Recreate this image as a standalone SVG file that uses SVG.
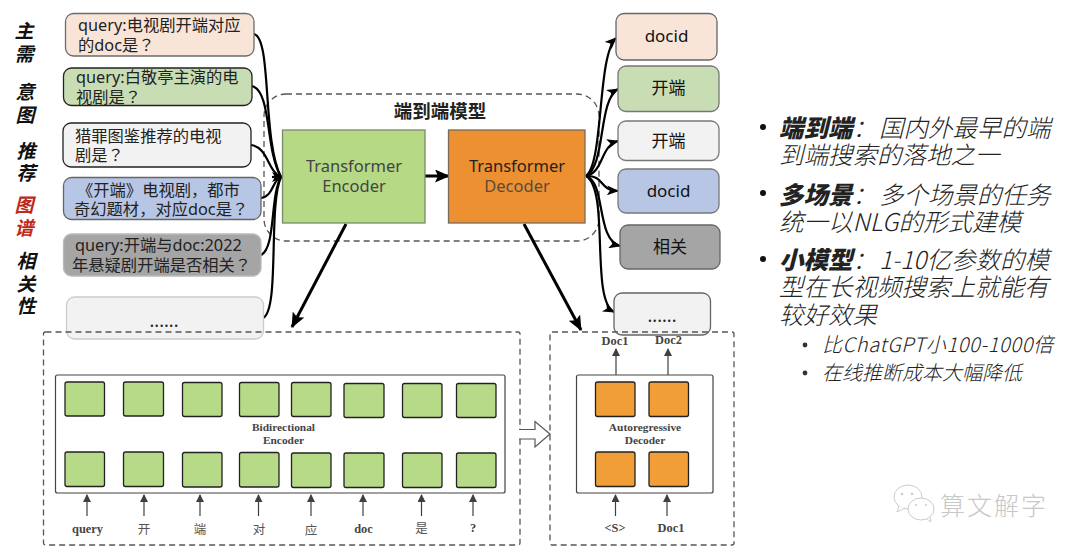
<svg xmlns="http://www.w3.org/2000/svg" width="1080" height="554" viewBox="0 0 1080 554">
<defs>
<marker id="ah" markerUnits="userSpaceOnUse" markerWidth="12" markerHeight="10" refX="11" refY="5" orient="auto"><path d="M0,0 L12,5 L0,10 L3,5 Z" fill="#000"/></marker>
<marker id="ahb" markerUnits="userSpaceOnUse" markerWidth="15" markerHeight="13" refX="14" refY="6.500" orient="auto"><path d="M0,0 L15,6.500 L0,13 L3,6.500 Z" fill="#000"/></marker>
<marker id="ag" markerUnits="userSpaceOnUse" markerWidth="8" markerHeight="9" refX="7" refY="4" orient="auto"><path d="M0,0 L8,4 L0,8 Z" fill="#404040"/></marker>
</defs>
<style>
text{font-family:"Noto Sans","Noto Sans CJK SC",sans-serif;fill:#222}
.q{font-size:16.3px}
.p{font-family:"Noto Sans CJK TC",sans-serif}
.side{font-family:"Noto Sans CJK SC",sans-serif;font-size:19px;font-weight:700;font-style:italic;text-anchor:middle;fill:#111}
.c{text-anchor:middle}
.q6{font-size:18px;text-anchor:middle;fill:#222}
.ser{font-family:"Liberation Serif","Noto Sans CJK SC",serif;font-weight:700;font-size:11.4px;text-anchor:middle;fill:#444}
.ser2{font-family:"Liberation Serif","Noto Sans CJK SC",serif;font-weight:700;font-size:12.4px;text-anchor:middle;fill:#444}
.serc{font-family:"Noto Sans CJK SC",serif;font-size:12.5px;text-anchor:middle;fill:#555}
.t{font-size:16.5px;text-anchor:middle}
.r{font-size:17px;text-anchor:middle;fill:#111}
.b{font-family:"Noto Sans CJK SC",sans-serif;font-size:24.5px;font-style:italic;font-weight:300;fill:#222}
.s{font-family:"Noto Sans CJK SC",sans-serif;font-size:20px;font-style:italic;font-weight:300;fill:#222}
.gc{fill:#B7DA88;stroke:#222;stroke-width:1.3}
.oc{fill:#F29E38;stroke:#222;stroke-width:1.3}
.pan{fill:#fff;stroke:#444;stroke-width:1.2}
.dash{fill:none;stroke:#555;stroke-width:1.3;stroke-dasharray:6 4}
.l{fill:none;stroke:#000;stroke-width:2.2}
.la{fill:none;stroke:#000;stroke-width:2.2;marker-end:url(#ah)}
.lb{fill:none;stroke:#000;stroke-width:3;marker-end:url(#ahb)}
.ga{fill:none;stroke:#404040;stroke-width:1.2;marker-end:url(#ag)}
</style>
<rect width="1080" height="554" fill="#fff"/>

<g id="side-labels">
<text class="side" x="24" y="38">主</text><text class="side" x="24" y="61">需</text>
<text class="side" x="25" y="99">意</text><text class="side" x="25" y="122">图</text>
<text class="side" x="26" y="158">推</text><text class="side" x="26" y="180">荐</text>
<text class="side" x="24" y="212" style="fill:#C0281C">图</text><text class="side" x="24" y="235" style="fill:#C0281C">谱</text>
<text class="side" x="26" y="268">相</text><text class="side" x="26" y="291">关</text><text class="side" x="26" y="313">性</text>
</g>

<g id="model-frame"><rect class="dash" x="264" y="94" width="335" height="147" rx="22"/></g>
<text id="model-title" x="440" y="118" class="c" style="font-family:'Noto Sans CJK SC',sans-serif;font-size:18.5px;font-weight:700;fill:#222">端到端模型</text>

<g id="connectors">
<path class="l" d="M254,34 C272,38 262,140 281,177"/>
<path class="l" d="M252,86 C272,92 265,150 281,177"/>
<path class="l" d="M251,145 C268,147 268,172 281,177"/>
<path class="l" d="M261,198 C274,196 272,180 281,177"/>
<path class="l" d="M261,255 C276,248 270,195 281,177"/>
<path class="l" d="M263,318 C280,310 268,205 281,177"/>
<path class="la" d="M272,177 H283"/>
<path class="la" d="M586,176 C604,162 597,56 616,38"/>
<path class="la" d="M586,176 C606,165 598,100 618,89"/>
<path class="la" d="M586,176 C604,172 600,146 618,141"/>
<path class="la" d="M586,176 C606,176 598,190 618,191"/>
<path class="la" d="M586,176 C606,182 596,240 620,246"/>
<path class="la" d="M586,176 C610,190 590,300 614,312"/>
<path class="lb" d="M425,176 H449"/>
<path class="lb" d="M346,224 L292,327"/>
<path class="lb" d="M524,224 L581,330"/>
<path class="ga" d="M87,516 V495"/><path class="ga" d="M144,516 V495"/><path class="ga" d="M200,516 V495"/><path class="ga" d="M258.500,516 V495"/><path class="ga" d="M311,516 V495"/><path class="ga" d="M363,516 V495"/><path class="ga" d="M421.500,516 V495"/><path class="ga" d="M473,516 V495"/>
<path class="ga" d="M615.500,516 V495"/><path class="ga" d="M667,516 V495"/>
<path class="ga" d="M616,375 V349"/><path class="ga" d="M668,375 V349"/>
</g>

<g id="q1"><rect x="65.500" y="13.500" width="188.500" height="42.500" rx="8" fill="#F8E5D8" stroke="#6b6b6b" stroke-width="1.3"/>
<text class="q" x="78" y="31">query:电视剧开端对应</text><text class="q" x="78" y="51">的doc是<tspan class="p">？</tspan></text></g>
<g id="q2"><rect x="63.500" y="68" width="188.500" height="37.500" rx="8" fill="#C9DDB5" stroke="#222" stroke-width="1.3"/>
<text class="q" x="76" y="83">query:白敬亭主演的电</text><text class="q" x="76" y="103">视剧是<tspan class="p">？</tspan></text></g>
<g id="q3"><rect x="63" y="123" width="188" height="44" rx="8" fill="#F2F2F2" stroke="#222" stroke-width="1.3"/>
<text class="q" x="75" y="142">猎罪图鉴推荐的电视</text><text class="q" x="75" y="161">剧是<tspan class="p">？</tspan></text></g>
<g id="q4"><rect x="63.500" y="177.500" width="197.500" height="42" rx="8" fill="#B7C6E4" stroke="#666" stroke-width="1.3"/>
<text class="q" x="77" y="196">《开端》电视剧，都市</text><text class="q" x="74" y="215">奇幻题材，对应doc是<tspan class="p">？</tspan></text></g>
<g id="q5"><rect x="63.500" y="234" width="197.500" height="42" rx="8" fill="#A5A5A5" stroke="#bbb" stroke-width="1.3"/>
<text class="q" x="75" y="251">query:开端与doc:2022</text><text class="q" x="72" y="271">年悬疑剧开端是否相关<tspan class="p">？</tspan></text></g>
<g id="q6"><rect x="66.500" y="297" width="197" height="42" rx="8" fill="#F2F2F2" stroke="#ccc" stroke-width="1.3"/>
<text class="q6" x="164" y="327">......</text></g>

<g id="encoder"><rect x="282.500" y="130" width="142.500" height="93" fill="#B5D985" stroke="#7A8A6A" stroke-width="1.3"/>
<text class="t" x="354" y="172" style="fill:#444">Transformer</text><text class="t" x="354" y="192" style="fill:#444">Encoder</text></g>
<g id="decoder"><rect x="448.500" y="130" width="136.500" height="93" fill="#EC9032" stroke="#7A6A5A" stroke-width="1.3"/>
<text class="t" x="517" y="172" style="fill:#222">Transformer</text><text class="t" x="517" y="192" style="fill:#5a4a3a">Decoder</text></g>

<g id="r1"><rect x="616" y="13.500" width="101" height="46.500" rx="8" fill="#F8E5D8" stroke="#666" stroke-width="1.3"/><text class="r" x="666.500" y="42">docid</text></g>
<g id="r2"><rect x="618" y="66" width="101" height="45.500" rx="8" fill="#C9DDB5" stroke="#777" stroke-width="1.3"/><text class="r" x="668.500" y="94">开端</text></g>
<g id="r3"><rect x="618" y="121" width="101" height="39.500" rx="8" fill="#F2F2F2" stroke="#777" stroke-width="1.3"/><text class="r" x="668.500" y="147">开端</text></g>
<g id="r4"><rect x="618" y="169" width="101" height="44" rx="8" fill="#B7C6E4" stroke="#777" stroke-width="1.3"/><text class="r" x="668.500" y="197">docid</text></g>
<g id="r5"><rect x="620" y="225" width="100" height="44" rx="8" fill="#A5A5A5" stroke="#666" stroke-width="1.3"/><text class="r" x="670" y="253">相关</text></g>
<g id="r6"><rect x="614" y="293" width="96.500" height="42" rx="8" fill="#F2F2F2" stroke="#666" stroke-width="1.3"/><text class="q6" x="662" y="322">......</text></g>

<g id="encoder-panel">
<rect class="dash" x="43.500" y="332" width="476.500" height="213" rx="2"/>
<rect class="pan" x="55.500" y="375" width="449.500" height="118" rx="2"/>
<rect class="gc" x="65" y="382" width="39.500" height="34" rx="2"/><rect class="gc" x="123.500" y="382" width="40" height="34" rx="2"/><rect class="gc" x="182.500" y="382.500" width="39.500" height="34" rx="2"/><rect class="gc" x="239.500" y="382.500" width="39.500" height="34" rx="2"/><rect class="gc" x="291.500" y="382.500" width="39.500" height="34" rx="2"/><rect class="gc" x="344" y="383.500" width="40" height="34" rx="2"/><rect class="gc" x="402.500" y="383.500" width="39.500" height="34" rx="2"/><rect class="gc" x="456.500" y="383.500" width="39.500" height="34" rx="2"/>
<rect class="gc" x="65" y="452" width="39.500" height="34.500" rx="2"/><rect class="gc" x="123.500" y="452" width="40" height="34.500" rx="2"/><rect class="gc" x="182.500" y="452.500" width="39.500" height="34.500" rx="2"/><rect class="gc" x="239.500" y="452.500" width="39.500" height="34.500" rx="2"/><rect class="gc" x="291.500" y="453" width="39.500" height="34.500" rx="2"/><rect class="gc" x="344" y="453" width="40" height="34.500" rx="2"/><rect class="gc" x="402.500" y="453" width="39.500" height="34.500" rx="2"/><rect class="gc" x="456.500" y="453" width="39.500" height="34.500" rx="2"/>
<text class="ser" x="283.500" y="431">Bidirectional</text><text class="ser" x="283.500" y="444">Encoder</text>
<text class="ser2" x="87.500" y="533">query</text><text class="serc" x="144" y="534">开</text><text class="serc" x="200" y="534">端</text><text class="serc" x="259" y="534">对</text><text class="serc" x="311" y="535">应</text><text class="ser2" x="363.500" y="533">doc</text><text class="serc" x="421.500" y="533">是</text><text class="ser2" x="473" y="532">?</text>
</g>

<g id="decoder-panel">
<rect class="dash" x="550" y="332" width="184" height="213" rx="2"/>
<rect class="pan" x="576.500" y="375" width="136.500" height="118" rx="2"/>
<rect class="oc" x="595.500" y="382" width="39.500" height="34.500" rx="2"/><rect class="oc" x="649" y="382" width="39.500" height="34.500" rx="2"/><rect class="oc" x="595.500" y="452" width="39.500" height="34.500" rx="2"/><rect class="oc" x="649" y="452" width="39.500" height="34.500" rx="2"/>
<text class="ser" x="645" y="431">Autoregressive</text><text class="ser" x="645" y="444">Decoder</text>
<text class="ser2" x="615" y="345">Doc1</text><text class="ser2" x="668.500" y="344">Doc2</text>
<text class="ser2" x="615" y="532">&lt;S&gt;</text><text class="ser2" x="671" y="532">Doc1</text>
</g>

<g id="block-arrow"><path d="M519,429.500 H535 V421.500 L550,434 L535,447 V439 H519" fill="#fff" stroke="#555" stroke-width="1.2"/></g>

<g id="notes">
<circle cx="763" cy="127" r="3" fill="#111"/><circle cx="763" cy="193" r="3" fill="#111"/><circle cx="763" cy="259" r="3" fill="#111"/><circle cx="805" cy="345" r="2.400" fill="#333"/><circle cx="805" cy="373" r="2.400" fill="#333"/>
<text class="b" x="779" y="137"><tspan font-weight="900">端到端</tspan>：<tspan dx="2">国内外最早的端</tspan></text>
<text class="b" x="779" y="164">到端搜索的落地之一</text>
<text class="b" x="779" y="204"><tspan font-weight="900">多场景</tspan>：<tspan dx="2">多个场景的任务</tspan></text>
<text class="b" x="779" y="231">统一以NLG的形式建模</text>
<text class="b" x="779" y="269"><tspan font-weight="900">小模型</tspan>：<tspan dx="2">1-10亿参数的模</tspan></text>
<text class="b" x="779" y="296">型在长视频搜索上就能有</text>
<text class="b" x="779" y="324">较好效果</text>
<text class="s" x="822" y="352" textLength="231" lengthAdjust="spacing">比ChatGPT小100-1000倍</text>
<text class="s" x="822" y="380">在线推断成本大幅降低</text>
</g>

<g id="watermark">
<ellipse cx="908" cy="497" rx="14" ry="12" fill="#fff" stroke="#ccc"/>
<path d="M899,506 L897,512 L905,508" fill="#fff" stroke="#ccc"/>
<ellipse cx="921" cy="509" rx="13" ry="11" fill="#fff" stroke="#ccc"/>
<path d="M927,519 L931,522 L930,517" fill="#fff" stroke="#ccc"/>
<circle cx="902" cy="494" r="1.300" fill="#ccc"/><circle cx="912" cy="494" r="1.300" fill="#ccc"/><circle cx="916" cy="505" r="1.100" fill="#ccc"/><circle cx="926" cy="505" r="1.100" fill="#ccc"/>
<text x="940" y="515" style="font-family:'Noto Sans CJK SC',sans-serif;font-size:25px;fill:#c8c8c8;font-weight:300;letter-spacing:2px">算文解字</text>
</g>
</svg>
